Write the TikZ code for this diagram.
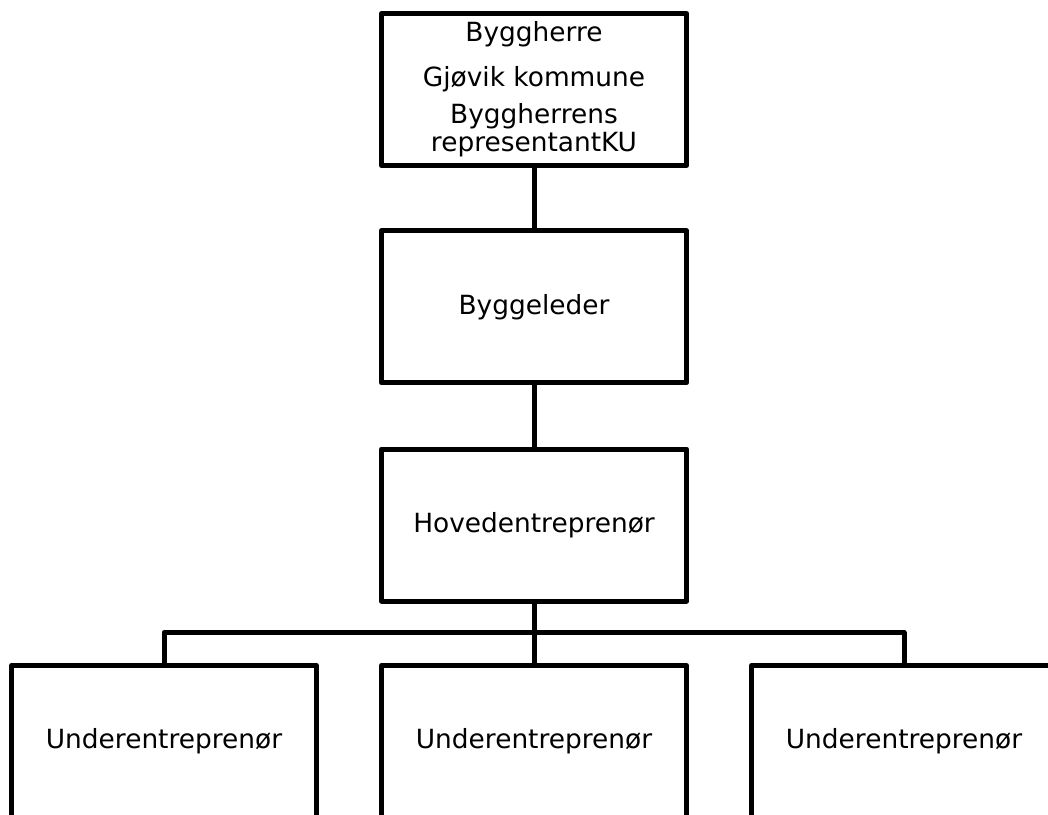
\documentclass[tikz,border=0pt]{standalone}
\usepackage{fontspec}
\setmainfont{DejaVu Sans}
\usetikzlibrary{positioning}

\begin{document}
\begin{tikzpicture}[x=0.5pt, y=-0.5pt,
  box/.style={draw, line width=2.5pt, line join=round, minimum width=152.5pt,
    minimum height=76pt, inner sep=0pt, align=center,
    font=\fontsize{13.2}{14.8}\selectfont},
  link/.style={draw, line width=2.5pt, line join=round}]

\clip (0,0) rectangle (1048,814);

% chain down the middle
\path
(534,89.5) node[box] (byggherre) {Byggherre\\[7.6pt]Gjøvik kommune\\[3.8pt]Byggherrens\\[-0.6pt]representantKU}
(534,306.75) node[box] (byggeleder) {Byggeleder}
(534,525) node[box] (hoved) {Hovedentreprenør};

% underentreprenører
\path
(164,741.5) node[box] (under1) {Underentreprenør}
(534,741.5) node[box] (under2) {Underentreprenør}
(904,741.5) node[box] (under3) {Underentreprenør};

\coordinate (bus) at (534,632.5);

% lines
\draw[link] (byggherre) -- (byggeleder);
\draw[link] (byggeleder) -- (hoved);
\draw[link] (hoved) -- (under2);
\draw[link] (under1.north) |- (bus) -| (under3.north);

\end{tikzpicture}
\end{document}
